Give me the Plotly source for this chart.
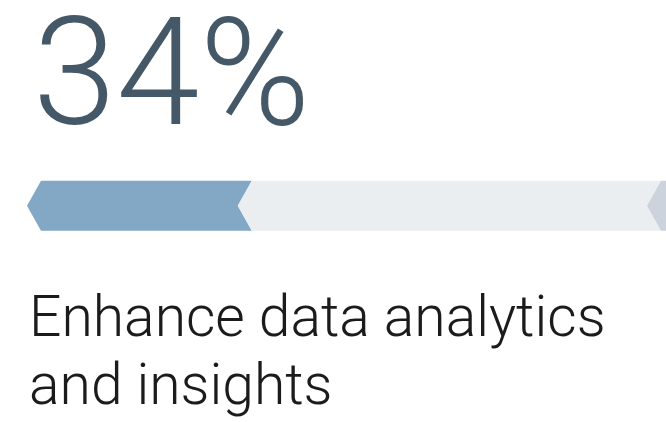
import plotly.graph_objects as go

# ---- data ----
value = 34            # percent shown
total = 100
label_lines = ["Enhance data analytics", "and insights"]
segment_names = ["done", "remaining", "next"]
segment_colors = ["#82a8c6", "#ebeef0", "#cdd3dc"]
number_color = "#445868"
text_color = "#1b1b1b"

# ---- geometry (axis ranges expressed in window-pixel space) ----
W, H = 666, 422
notch = 2.26          # chevron depth in x units
y_top, y_bot = 180.7, 230.7
y_mid = (y_top + y_bot) / 2
px_per_unit = 6.2
left_px = 41          # window x of value 0

def chevron(x0, x1):
    xs = [x0, x1, x1 - notch, x1, x0, x0 - notch, x0]
    ys = [y_top, y_top, y_mid, y_bot, y_bot, y_mid, y_top]
    return xs, ys

def xw(px):
    return (px - left_px) / px_per_unit

starts = [0, value, total]
ends = [value, total, total + 4]

fig = go.Figure()
for name, c, a, b in zip(segment_names, segment_colors, starts, ends):
    xs, ys = chevron(a, b)
    fig.add_trace(go.Scatter(x=xs, y=ys, fill="toself", fillcolor=c, mode="lines",
                             line=dict(width=0, color=c), name=name,
                             hoverinfo="skip", showlegend=False))

fig.update_xaxes(range=[xw(0), xw(W)], visible=False, fixedrange=True)
fig.update_yaxes(range=[H, 0], visible=False, fixedrange=True)

fig.add_annotation(text=f"{value}%", x=xw(31), y=73,
                   xref="x", yref="y", xanchor="left", yanchor="middle",
                   showarrow=False,
                   font=dict(family="Roboto", size=150, color=number_color, weight=300))
fig.add_annotation(text=label_lines[0], x=xw(27), y=316.5,
                   xref="x", yref="y", xanchor="left", yanchor="middle",
                   showarrow=False,
                   font=dict(family="Roboto", size=57, color=text_color, weight=300))
fig.add_annotation(text=label_lines[1], x=xw(27), y=384,
                   xref="x", yref="y", xanchor="left", yanchor="middle",
                   showarrow=False,
                   font=dict(family="Roboto", size=57, color=text_color, weight=300))

fig.update_layout(width=W, height=H, margin=dict(l=0, r=0, t=0, b=0),
                  paper_bgcolor="white", plot_bgcolor="white")
fig.write_html("out.html", config={"displayModeBar": False},
               post_script="document.body.style.margin='0';document.body.style.overflow='hidden';")
